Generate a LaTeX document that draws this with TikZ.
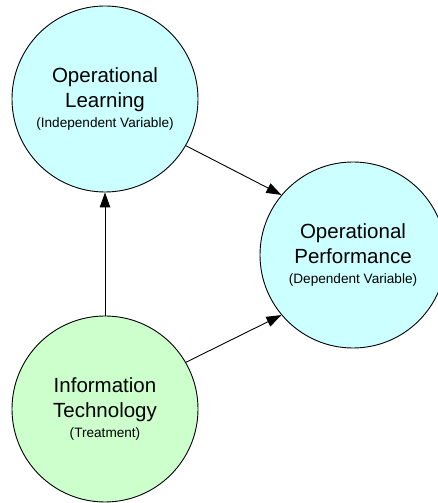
\documentclass[tikz,border=0pt]{standalone}
\usepackage{fontspec}
\setmainfont{Liberation Sans}
\usepackage{tikz}
\usetikzlibrary{arrows.meta}
\definecolor{paleblue}{RGB}{204,255,255}
\definecolor{palegreen}{RGB}{204,255,204}
\newcommand{\rolenote}[1]{{\fontsize{13.6}{16}\selectfont #1}}

\begin{document}
\begin{tikzpicture}[x=1pt, y=1pt,
        varcircle/.style={circle, draw=black, line width=0.9pt, minimum size=186pt, inner sep=0pt,
            align=center, font=\fontsize{20.5}{25}\selectfont},
        link/.style={line width=0.9pt, -{Triangle[length=15pt, width=10.5pt]}}]
    \useasboundingbox (0,0) rectangle (438,503);

    % the three variables
    \node[varcircle, fill=paleblue] (learning) at (105,404)
        {Operational\\Learning\\[-5pt]\rolenote{(Independent Variable)}};
    \node[varcircle, fill=paleblue] (performance) at (353,248)
        {Operational\\Performance\\[-5pt]\rolenote{(Dependent Variable)}};
    \node[varcircle, fill=palegreen] (technology) at (105,94)
        {Information\\Technology\\[-5pt]\rolenote{(Treatment)}};

    % effects
    \draw[link] (technology) -- (learning);
    \draw[link] (learning.-30) -- (performance.140);
    \draw[link] (technology.30) -- (performance.220);
\end{tikzpicture}
\end{document}
